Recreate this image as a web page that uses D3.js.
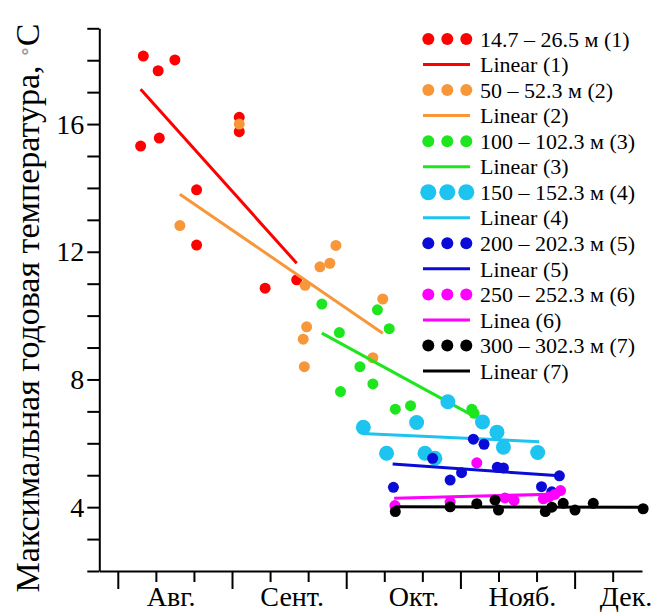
<!DOCTYPE html>
<html>
<head>
<meta charset="utf-8">
<script src="https://cdn.jsdelivr.net/npm/d3@7"></script>
<style>
  body { margin: 0; background: #fff; }
  text { font-family: "Liberation Serif", "Times New Roman", "DejaVu Serif", serif; fill: #000; }
</style>
</head>
<body>
<div id="chart"></div>
<script>
///////////////////////////////////////////////////////////////////////////
///////////////////////////////// Data ////////////////////////////////////
///////////////////////////////////////////////////////////////////////////

//x is in decades (10-day periods) counted from the start of August
var months = ["Авг.", "Сент.", "Окт.", "Нояб.", "Дек."];
var monthPos = [1.40, 4.58, 7.78, 10.63, 13.35];
var yTickLabels = [4, 8, 12, 16];

var seriesNames = ["14.7 – 26.5 м (1)", "50 – 52.3 м (2)", "100 – 102.3 м (3)",
    "150 – 152.3 м (4)", "200 – 202.3 м (5)", "250 – 252.3 м (6)", "300 – 302.3 м (7)"];
var lineNames = ["Linear (1)", "Linear (2)", "Linear (3)", "Linear (4)",
    "Linear (5)", "Linea (6)", "Linear (7)"];
var colours = ["#ff0000", "#f7973a", "#1ee61e", "#1cc4ef", "#0b0bd8", "#ff00ff", "#000000"];

var pts1 = [[0.67,18.13],[1.50,18.01],[1.06,17.67],[0.60,15.31],[1.09,15.56],[3.19,16.21],
    [3.19,15.76],[2.07,13.94],[2.07,12.21],[3.87,10.86],[4.70,11.12]];
var pts2 = [[3.19,16.00],[1.63,12.82],[5.73,12.20],[5.31,11.53],[5.57,11.64],[4.92,10.95],
    [6.96,10.52],[4.96,9.65],[4.87,9.26],[6.70,8.68],[4.90,8.40]];
var pts3 = [[5.36,10.36],[6.82,10.18],[7.13,9.59],[5.82,9.47],[6.36,8.40],[6.70,7.86],
    [5.85,7.62],[7.29,7.07],[7.69,7.18],[9.30,7.07],[9.36,6.94]];
var pts4 = [[6.45,6.50],[7.06,5.69],[7.85,6.65],[8.07,5.69],[8.33,5.53],[8.67,7.30],
    [9.58,6.67],[9.96,6.35],[10.13,5.88],[11.03,5.71]];
var pts5 = [[7.24,4.62],[8.27,5.53],[8.73,4.85],[9.03,5.08],[9.34,6.13],[9.62,5.97],
    [9.97,5.25],[10.13,5.23],[11.13,4.64],[11.40,4.48],[11.60,4.98]];
var pts6 = [[7.28,4.05],[8.73,4.16],[9.43,5.39],[10.17,4.29],[10.41,4.21],[11.18,4.26],
    [11.33,4.32],[11.48,4.40],[11.63,4.52]];
var pts7 = [[7.29,3.86],[8.73,4.01],[9.43,4.11],[9.91,4.22],[10.00,3.91],[11.23,3.86],
    [11.40,4.00],[11.70,4.12],[12.01,3.91],[12.49,4.12],[13.80,3.95]];

//Linear trend lines: [x0, y0, x1, y1]
var trends = [
    [0.60, 17.09, 4.70, 11.64],
    [1.63, 13.80, 6.96, 9.45],
    [5.36, 9.45, 9.34, 6.86],
    [6.41, 6.31, 11.07, 6.05],
    [7.22, 5.35, 11.60, 4.98],
    [7.26, 4.28, 11.63, 4.41],
    [7.28, 4.01, 13.80, 4.00]
];

var allPoints = [pts1, pts2, pts3, pts4, pts5, pts6, pts7];

///////////////////////////////////////////////////////////////////////////
//////////////////// Set up and initiate svg containers ///////////////////
///////////////////////////////////////////////////////////////////////////

var width = 655,
    height = 613;

var svg = d3.select("#chart")
    .append("svg")
    .attr("width", width)
    .attr("height", height);

var x = d3.scaleLinear()
    .domain([-0.486, 13.77])
    .range([99.3, 642]);

var y = d3.scaleLinear()
    .domain([2, 19])
    .range([571, 28.3]);

///////////////////////////////////////////////////////////////////////////
//////////////////////////////// Axes /////////////////////////////////////
///////////////////////////////////////////////////////////////////////////

var yAxis = d3.axisLeft(y)
    .tickValues(d3.range(2, 20))
    .tickSize(12)
    .tickSizeOuter(0)
    .tickPadding(3)
    .tickFormat(function(d) { return yTickLabels.indexOf(d) >= 0 ? d : ""; });

var gy = svg.append("g")
    .attr("transform", "translate(" + x.range()[0] + ",0)")
    .call(yAxis);
gy.attr("font-family", null);
gy.selectAll("text").style("font-size", "28px");

var xAxis = d3.axisBottom(x)
    .tickValues(d3.range(0, 14))
    .tickSize(11)
    .tickSizeOuter(0)
    .tickFormat("");

var gx = svg.append("g")
    .attr("transform", "translate(0," + y.range()[0] + ")")
    .call(xAxis);
//longer ticks at month boundaries
gx.selectAll(".tick line")
    .attr("y2", function(d) { return d % 3 === 0 ? 18 : 11; });

svg.selectAll(".domain, .tick line")
    .style("stroke", "#000")
    .style("stroke-width", 2);

//Month labels
svg.append("g")
    .selectAll("text")
    .data(months)
    .enter().append("text")
    .attr("x", function(d, i) { return x(monthPos[i]); })
    .attr("y", 606)
    .attr("text-anchor", "middle")
    .style("font-size", "28px")
    .text(function(d) { return d; });

//Y axis title
var title = svg.append("text")
    .attr("transform", "translate(39,308) rotate(-90)")
    .attr("text-anchor", "middle")
    .style("font-size", "34px");
title.append("tspan").text("Максимальная годовая температура, ");
title.append("tspan").style("fill", "#999").style("font-size", "22px").attr("dy", -7).text("∘");
title.append("tspan").attr("dy", 7).text("С");

///////////////////////////////////////////////////////////////////////////
///////////////////////// Points and trend lines //////////////////////////
///////////////////////////////////////////////////////////////////////////

allPoints.forEach(function(pts, i) {
    var g = svg.append("g");
    g.selectAll("circle")
        .data(pts)
        .enter().append("circle")
        .attr("cx", function(d) { return x(d[0]); })
        .attr("cy", function(d) { return y(d[1]); })
        .attr("r", i === 3 ? 7.5 : 5.5)
        .style("fill", colours[i]);

    var t = trends[i];
    g.append("line")
        .attr("x1", x(t[0])).attr("y1", y(t[1]))
        .attr("x2", x(t[2])).attr("y2", y(t[3]))
        .style("stroke", colours[i])
        .style("stroke-width", 3);
});

///////////////////////////////////////////////////////////////////////////
////////////////////////// Draw the legend ////////////////////////////////
///////////////////////////////////////////////////////////////////////////

var legendRowH = 25.54,
    legendTop = 39;

var legend = svg.append("g").attr("class", "legendWrapper");

seriesNames.forEach(function(name, i) {
    var rowDots = legendTop + 2 * i * legendRowH,
        rowLine = rowDots + legendRowH;

    legend.selectAll(".dot" + i)
        .data([428.3, 447.3, 466.3])
        .enter().append("circle")
        .attr("cx", function(d) { return d; })
        .attr("cy", rowDots)
        .attr("r", i === 3 ? 8 : 6)
        .style("fill", colours[i]);

    legend.append("text")
        .attr("x", 480)
        .attr("y", rowDots)
        .attr("dy", "0.35em")
        .style("font-size", "22px")
        .text(name);

    legend.append("line")
        .attr("x1", 423).attr("x2", 470)
        .attr("y1", rowLine).attr("y2", rowLine)
        .style("stroke", colours[i])
        .style("stroke-width", 3);

    legend.append("text")
        .attr("x", 480)
        .attr("y", rowLine)
        .attr("dy", "0.35em")
        .style("font-size", "22px")
        .text(lineNames[i]);
});
</script>
</body>
</html>
